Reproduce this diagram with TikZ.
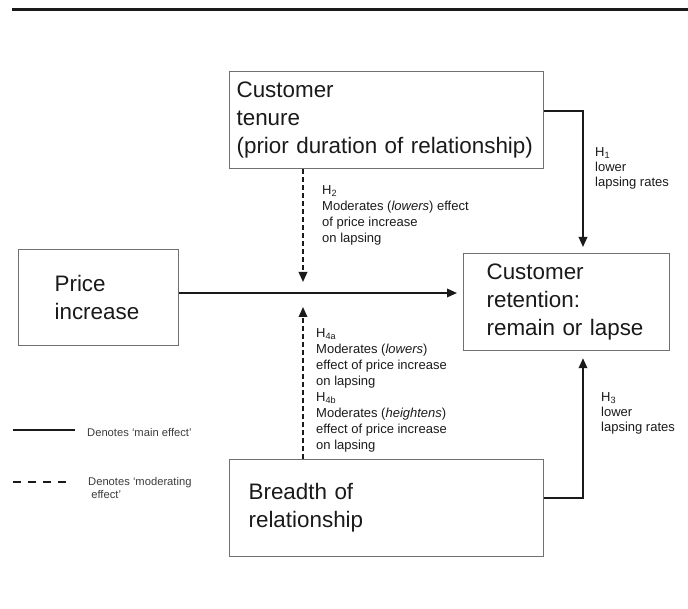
\documentclass[tikz,border=0pt]{standalone}
\usepackage{fontspec}
\setmainfont{Liberation Sans}
\usetikzlibrary{arrows.meta,calc}
\definecolor{ink}{HTML}{1A1A1A}
\definecolor{boxline}{HTML}{707070}
\begin{document}
\begin{tikzpicture}[x=1pt,y=-1pt,
  box/.style={draw=boxline, line width=1.2pt, anchor=north west, align=left,
    text=ink, font={\fontsize{22.4}{28}\selectfont}, inner ysep=0pt},
  mainarrow/.style={draw=ink, line width=1.8pt, -{Triangle[length=10pt,width=8.5pt]}},
  modarrow/.style={draw=ink, line width=1.8pt, dash pattern=on 5pt off 3pt, -{Triangle[length=10pt,width=8.5pt]}},
  lbl/.style={anchor=north west, align=left, inner sep=0pt, text=ink, font={\fontsize{13}{16}\selectfont}},
  lblh/.style={anchor=north west, align=left, inner sep=0pt, text=ink, font={\fontsize{13}{15}\selectfont}},
  legtext/.style={anchor=north west, align=left, inner sep=0pt, text=ink!85, font={\fontsize{11.2}{13}\selectfont}}
]
\useasboundingbox (0,0) rectangle (688,609);
% top rule
\draw[ink, line width=3pt] (12,10) -- (688,10);

% boxes
\node[box, minimum width=314pt, minimum height=97pt, text width=300pt, inner xsep=7pt] (tenure) at (229,71)
  {Customer\\tenure\\(prior duration of relationship)};
\node[box, minimum width=160pt, minimum height=96pt, text width=88pt, inner xsep=36pt] (price) at (18,249)
  {Price\\increase};
\node[box, minimum width=206pt, minimum height=97pt, text width=160pt, inner xsep=23pt] (retention) at (463,253)
  {Customer\\retention:\\remain or lapse};
\node[box, minimum width=314pt, minimum height=97pt, text width=276pt, inner xsep=19pt] (breadth) at (229,459)
  {Breadth of\\relationship};

% helper coordinates
\coordinate (mainy) at (0,293);
\coordinate (h1c) at (583,111);
\coordinate (h3c) at (583,498);
\coordinate (modx) at (303,0);
\coordinate (h2tip) at (303,282);
\coordinate (h4tip) at (303,307);

% main effects
\draw[mainarrow, shorten >=6pt] (price.east |- mainy) -- (retention.west |- mainy);
\draw[mainarrow, shorten >=6pt] (tenure.east |- h1c) -- (h1c) -- (h1c |- retention.north);
\draw[mainarrow, shorten >=7pt] (breadth.east |- h3c) -- (h3c) -- (h3c |- retention.south);

% moderating effects
\draw[modarrow] (tenure.south -| modx) -- (h2tip);
\draw[modarrow] (breadth.north -| modx) -- (h4tip);

% labels
\node[lblh] (h1lab) at (595,147) {H\textsubscript{1}\\lower\\lapsing rates};
\node[lbl] (h2lab) at (322,185) {H\textsubscript{2}\\Moderates (\textit{lowers}) effect\\of price increase\\on lapsing};
\node[lbl] (h4lab) at (316,328) {H\textsubscript{4a}\\Moderates (\textit{lowers})\\effect of price increase\\on lapsing\\H\textsubscript{4b}\\Moderates (\textit{heightens})\\effect of price increase\\on lapsing};
\node[lblh] (h3lab) at (601,392) {H\textsubscript{3}\\lower\\lapsing rates};

% legend
\coordinate (l1a) at (13,430);
\coordinate (l1b) at (75,430);
\draw[ink, line width=2.4pt] (l1a) -- (l1b);
\node[legtext] (leg1) at (87,428) {Denotes ‘main effect’};
\coordinate (l2a) at (13,482);
\coordinate (l2b) at (70,482);
\draw[ink, line width=2.6pt, dash pattern=on 8pt off 7pt] (l2a) -- (l2b);
\node[legtext] (leg2) at (88,477) {Denotes ‘moderating\\\ effect’};
\end{tikzpicture}
\end{document}
